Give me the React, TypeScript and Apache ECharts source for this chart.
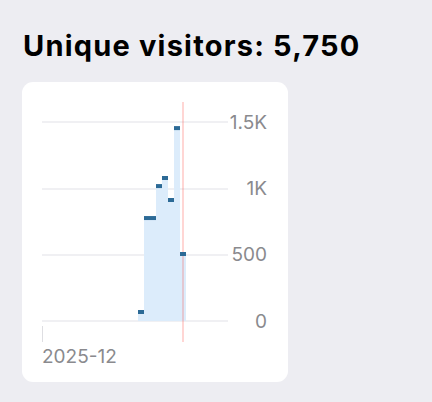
import React, { useEffect, useRef } from "react";
import * as echarts from "echarts";

const monthLabel = "2025-12";
const days: string[] = [];
for (let d = 1; d <= 31; d++) days.push(`2025-12-${String(d).padStart(2, "0")}`);

// daily unique visitors (Dec 17 – Dec 24), other days have no data
const visitorDays = ["2025-12-17", "2025-12-18", "2025-12-19", "2025-12-20", "2025-12-21", "2025-12-22", "2025-12-23", "2025-12-24"];
const visitorValues = [68, 776, 776, 1017, 1078, 912, 1454, 505];
const today = "2025-12-24";
const yTicks = [0, 500, 1000, 1500];
const totalVisitors = "5,750";

export default function App() {
  const ref = useRef<HTMLDivElement>(null);

  useEffect(() => {
    document.body.style.margin = "0";
    if (!ref.current) return;
    const chart = echarts.init(ref.current, null, { renderer: "svg" });
    const series = days.map((d) => {
      const i = visitorDays.indexOf(d);
      return i >= 0 ? visitorValues[i] : null;
    });
    const labelFont = "Inter, 'Noto Sans', sans-serif";
    chart.setOption({
      animation: false,
      grid: { left: 42, right: 204, top: 122, bottom: 81 },
      xAxis: {
        type: "category",
        data: days,
        boundaryGap: true,
        axisLine: { show: false },
        axisTick: { show: false },
        axisLabel: { show: false },
        splitLine: { show: false },
      },
      yAxis: {
        type: "value",
        position: "right",
        min: yTicks[0],
        max: yTicks[yTicks.length - 1],
        interval: 500,
        axisLine: { show: false },
        axisTick: { show: false },
        axisLabel: {
          align: "right",
          margin: 39,
          fontSize: 19,
          color: "#8a8a8e",
          fontFamily: labelFont,
          formatter: (v: number) => (v >= 1000 ? `${v / 1000}K` : `${v}`),
        },
        splitLine: { lineStyle: { color: "#f0f0f3", width: 2 } },
      },
      series: [
        {
          type: "bar",
          data: series,
          barCategoryGap: 0,
          itemStyle: { color: "#dcecfb" },
          z: 2,
        },
        {
          // month start tick + label
          type: "custom",
          data: [[days[0], 0]],
          encode: { x: 0, y: 1 },
          z: 2,
          renderItem: (params: any, api: any) => {
            const half = api.size([1, 0])[0] / 2;
            const x = Math.round(api.coord([api.value(0), 0])[0] - half) + 0.5;
            const cs = params.coordSys;
            const y0 = cs.y + cs.height;
            return {
              type: "group",
              children: [
                {
                  type: "line",
                  shape: { x1: x, y1: y0 + 5, x2: x, y2: y0 + 21 },
                  style: { stroke: "#dedee2", lineWidth: 1 },
                },
                {
                  type: "text",
                  x: x - 0.5,
                  y: y0 + 26,
                  style: {
                    text: monthLabel,
                    fontSize: 19,
                    fontFamily: labelFont,
                    fill: "#8a8a8e",
                    align: "left",
                    verticalAlign: "top",
                  },
                },
              ],
            };
          },
        },
        {
          type: "custom",
          data: [[today, 0]],
          encode: { x: 0, y: 1 },
          z: 3,
          renderItem: (params: any, api: any) => {
            const x = api.coord([api.value(0), 0])[0];
            const cs = params.coordSys;
            return {
              type: "line",
              shape: { x1: x, y1: cs.y - 20, x2: x, y2: cs.y + cs.height + 21 },
              style: { stroke: "rgba(255, 70, 60, 0.22)", lineWidth: 2 },
            };
          },
        },
        {
          type: "scatter",
          data: series,
          symbol: "rect",
          symbolSize: [6, 4],
          itemStyle: { color: "#2c6a96", opacity: 1 },
          z: 4,
        },
      ],
    });
    return () => chart.dispose();
  }, []);

  return (
    <div style={{ position: "relative", width: 432, height: 402, background: "#ededf2", overflow: "hidden" }}>
      <div
        style={{
          position: "absolute",
          left: 23,
          top: 31,
          fontFamily: "Inter, 'Noto Sans', sans-serif",
          fontWeight: 700,
          fontSize: 29,
          lineHeight: "29px",
          letterSpacing: "1.2px",
          color: "#000",
          whiteSpace: "nowrap",
        }}
      >
        Unique visitors: {totalVisitors}
      </div>
      <div
        style={{
          position: "absolute",
          left: 22,
          top: 82,
          width: 266,
          height: 300,
          borderRadius: 11,
          background: "#fff",
        }}
      />
      <div ref={ref} style={{ position: "absolute", left: 0, top: 0, width: 432, height: 402 }} />
    </div>
  );
}
